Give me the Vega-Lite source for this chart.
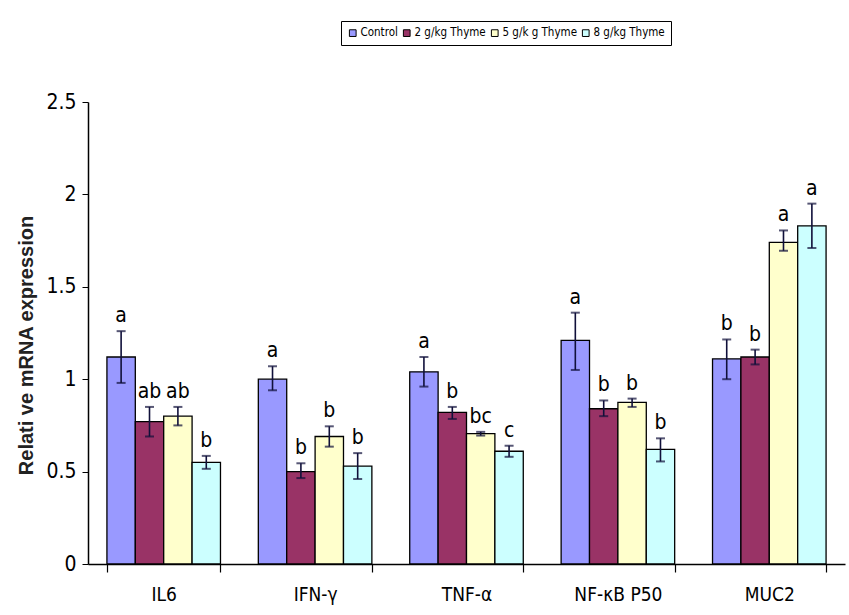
{
  "$schema": "https://vega.github.io/schema/vega-lite/v6.json",
  "autosize": {"type": "none"},
  "width": 757,
  "height": 462,
  "padding": {"left": 88, "top": 102, "right": 4, "bottom": 51},
  "background": "white",
  "config": {
    "view": {"stroke": null},
    "font": "DejaVu Sans Condensed, Liberation Sans"
  },
  "data": {
    "values": [
      {"gene": "IL6", "group": "Control", "mean": 1.12, "lo": 0.98, "hi": 1.26, "letter": "a"},
      {"gene": "IL6", "group": "2 g/kg Thyme", "mean": 0.77, "lo": 0.69, "hi": 0.85, "letter": "ab"},
      {"gene": "IL6", "group": "5 g/k g Thyme", "mean": 0.80, "lo": 0.75, "hi": 0.85, "letter": "ab"},
      {"gene": "IL6", "group": "8 g/kg Thyme", "mean": 0.55, "lo": 0.515, "hi": 0.585, "letter": "b"},
      {"gene": "IFN-γ", "group": "Control", "mean": 1.00, "lo": 0.94, "hi": 1.07, "letter": "a"},
      {"gene": "IFN-γ", "group": "2 g/kg Thyme", "mean": 0.50, "lo": 0.465, "hi": 0.545, "letter": "b"},
      {"gene": "IFN-γ", "group": "5 g/k g Thyme", "mean": 0.69, "lo": 0.635, "hi": 0.745, "letter": "b"},
      {"gene": "IFN-γ", "group": "8 g/kg Thyme", "mean": 0.53, "lo": 0.46, "hi": 0.60, "letter": "b"},
      {"gene": "TNF-α", "group": "Control", "mean": 1.04, "lo": 0.96, "hi": 1.12, "letter": "a"},
      {"gene": "TNF-α", "group": "2 g/kg Thyme", "mean": 0.82, "lo": 0.785, "hi": 0.85, "letter": "b"},
      {"gene": "TNF-α", "group": "5 g/k g Thyme", "mean": 0.705, "lo": 0.695, "hi": 0.715, "letter": "bc"},
      {"gene": "TNF-α", "group": "8 g/kg Thyme", "mean": 0.61, "lo": 0.58, "hi": 0.64, "letter": "c"},
      {"gene": "NF-κB P50", "group": "Control", "mean": 1.21, "lo": 1.05, "hi": 1.36, "letter": "a"},
      {"gene": "NF-κB P50", "group": "2 g/kg Thyme", "mean": 0.84, "lo": 0.80, "hi": 0.885, "letter": "b"},
      {"gene": "NF-κB P50", "group": "5 g/k g Thyme", "mean": 0.875, "lo": 0.85, "hi": 0.895, "letter": "b"},
      {"gene": "NF-κB P50", "group": "8 g/kg Thyme", "mean": 0.62, "lo": 0.555, "hi": 0.68, "letter": "b"},
      {"gene": "MUC2", "group": "Control", "mean": 1.11, "lo": 1.00, "hi": 1.215, "letter": "b"},
      {"gene": "MUC2", "group": "2 g/kg Thyme", "mean": 1.12, "lo": 1.08, "hi": 1.16, "letter": "b"},
      {"gene": "MUC2", "group": "5 g/k g Thyme", "mean": 1.74, "lo": 1.695, "hi": 1.805, "letter": "a"},
      {"gene": "MUC2", "group": "8 g/kg Thyme", "mean": 1.83, "lo": 1.71, "hi": 1.95, "letter": "a"}
    ]
  },
  "encoding": {
    "x": {
      "field": "gene",
      "type": "nominal",
      "sort": ["IL6", "IFN-γ", "TNF-α", "NF-κB P50", "MUC2"],
      "scale": {"paddingInner": 0.25, "paddingOuter": 0.125},
      "axis": {
        "title": null,
        "labelAngle": 0,
        "labelFontSize": 19,
        "labelColor": "black",
        "labelPadding": 13,
        "tickBand": "extent",
        "tickSize": 8,
        "tickColor": "black",
        "domainColor": "black",
        "domainWidth": 1.5,
        "tickWidth": 1.2
      }
    },
    "xOffset": {
      "field": "group",
      "type": "nominal",
      "sort": ["Control", "2 g/kg Thyme", "5 g/k g Thyme", "8 g/kg Thyme"],
      "scale": {"paddingInner": 0, "paddingOuter": 0}
    }
  },
  "layer": [
    {
      "mark": {"type": "bar", "stroke": "black", "strokeWidth": 1.3},
      "encoding": {
        "y": {
          "field": "mean",
          "type": "quantitative",
          "scale": {"domain": [0, 2.5], "nice": false},
          "axis": {
            "title": "Relati ve  mRNA  expression",
            "titleFont": "Liberation Sans",
            "titleFontSize": 20,
            "titleFontWeight": "bold",
            "titleColor": "#222222",
            "titleX": -62,
            "titleY": 243,
            "titleAngle": -90,
            "titleAlign": "center",
            "titleBaseline": "middle",
            "values": [0, 0.5, 1, 1.5, 2, 2.5],
            "labelExpr": "datum.value",
            "labelFontSize": 21,
            "labelColor": "black",
            "labelPadding": 6,
            "grid": false,
            "tickSize": 6,
            "tickColor": "black",
            "domainColor": "black",
            "domainWidth": 1.5
          }
        },
        "color": {
          "field": "group",
          "type": "nominal",
          "sort": ["Control", "2 g/kg Thyme", "5 g/k g Thyme", "8 g/kg Thyme"],
          "scale": {
            "domain": ["Control", "2 g/kg Thyme", "5 g/k g Thyme", "8 g/kg Thyme"],
            "range": ["#9999FF", "#993366", "#FFFFCC", "#CCFFFF"]
          },
          "legend": {
            "title": null,
            "orient": "none",
            "direction": "horizontal",
            "legendX": 253,
            "legendY": -81,
            "symbolType": "square",
            "symbolSize": 45,
            "symbolStrokeColor": "black",
            "symbolStrokeWidth": 1,
            "symbolOpacity": 1,
            "labelFontSize": 11.5,
            "labelColor": "black",
            "labelOffset": 2,
            "columnPadding": 3,
            "strokeColor": "black",
            "padding": 6,
            "cornerRadius": 0
          }
        }
      }
    },
    {
      "mark": {"type": "rule", "color": "#10103a", "strokeWidth": 1.6},
      "encoding": {
        "y": {"field": "lo", "type": "quantitative"},
        "y2": {"field": "hi"}
      }
    },
    {
      "mark": {"type": "tick", "color": "#10103a", "size": 9, "thickness": 2},
      "encoding": {"y": {"field": "lo", "type": "quantitative"}}
    },
    {
      "mark": {"type": "tick", "color": "#10103a", "size": 9, "thickness": 2},
      "encoding": {"y": {"field": "hi", "type": "quantitative"}}
    },
    {
      "mark": {"type": "text", "baseline": "alphabetic", "dy": -9, "fontSize": 21, "color": "black"},
      "encoding": {
        "y": {"field": "hi", "type": "quantitative"},
        "text": {"field": "letter"}
      }
    }
  ]
}
